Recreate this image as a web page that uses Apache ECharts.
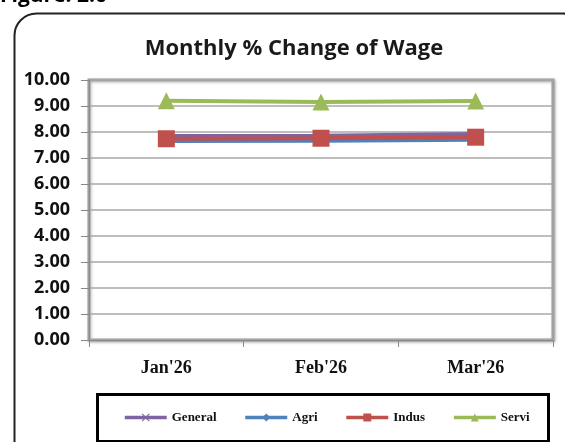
<!DOCTYPE html>
<html>
<head>
<meta charset="utf-8">
<script src="https://cdn.jsdelivr.net/npm/echarts@6/dist/echarts.min.js"></script>
<style>
  html, body { margin: 0; padding: 0; background: #fff; }
  #main { width: 565px; height: 442px; }
</style>
</head>
<body>
<div id="main"></div>
<script>
// data
var months = ["Jan'26", "Feb'26", "Mar'26"];
var general = [7.85, 7.86, 7.92];
var agri = [7.65, 7.66, 7.70];
var indus = [7.74, 7.76, 7.80];
var servi = [9.20, 9.15, 9.19];
var yTicks = [0, 1, 2, 3, 4, 5, 6, 7, 8, 9, 10];

var colGeneral = '#8064A2';
var colAgri = '#4F81BD';
var colIndus = '#C0504D';
var colServi = '#9BBB59';

var xMark = 'path://M0,1L1,0L5,4L9,0L10,1L6,5L10,9L9,10L5,6L1,10L0,9L4,5Z';

function lineSeries(name, data, color, symbol, size) {
	return {
		name: name,
		type: 'line',
		data: data,
		symbol: symbol,
		symbolSize: size,
		showAllSymbol: true,
		lineStyle: { color: color, width: 4 },
		itemStyle: { color: color },
		emphasis: { disabled: true }
	};
}

var chart = echarts.init(document.getElementById('main'), null, { renderer: 'canvas' });

var option = {
	animation: false,
	backgroundColor: '#fff',
	title: {
		text: 'Monthly % Change of Wage',
		left: 289,
		textAlign: 'center',
		top: 33,
		textStyle: { fontFamily: 'Open Sans', fontSize: 22, fontWeight: 'bold', color: '#1a1a1a' }
	},
	graphic: [
		{
			type: 'rect', left: 12, top: 11, silent: true, z: -1,
			shape: { width: 570, height: 450, r: 22 },
			style: { fill: 'none', stroke: '#222', lineWidth: 2 }
		},
		{
			type: 'text', left: 0, top: -14, silent: true,
			style: { text: 'Figure: 2.6', fill: '#000', font: 'bold 21px "Open Sans"' }
		},
		{
			type: 'rect', left: 96, top: 393, silent: true, z: -1,
			shape: { width: 451, height: 47 },
			style: { fill: '#fff', stroke: '#000', lineWidth: 3 }
		}
	],
	grid: {
		left: 89, right: 12, top: 80, bottom: 102,
		show: true,
		backgroundColor: '#fff',
		borderColor: '#a0a0a0',
		borderWidth: 3,
		shadowColor: 'rgba(0,0,0,0.25)',
		shadowBlur: 3,
		shadowOffsetX: 1,
		shadowOffsetY: 1
	},
	legend: {
		data: ['General', 'Agri', 'Indus', 'Servi'],
		left: 118,
		top: 406,
		itemWidth: 42,
		itemHeight: 10,
		itemGap: 27,
		selectedMode: false,
		lineStyle: { width: 3.5 },
		textStyle: { fontFamily: 'Liberation Serif', fontSize: 13, fontWeight: 'bold', color: '#111', padding: [0, 0, 0, 0] }
	},
	xAxis: {
		type: 'category',
		data: months,
		boundaryGap: true,
		axisLine: { lineStyle: { color: '#888', width: 1 } },
		axisTick: { show: true, length: 7, lineStyle: { color: '#888' } },
		axisLabel: { margin: 19, fontFamily: 'Liberation Serif', fontSize: 18, fontWeight: 'bold', color: '#111' },
		splitLine: { show: false }
	},
	yAxis: {
		type: 'value',
		min: yTicks[0],
		max: yTicks[yTicks.length - 1],
		interval: 1,
		axisLine: { show: true, lineStyle: { color: '#888' } },
		axisTick: { show: true, length: 8, lineStyle: { color: '#888' } },
		axisLabel: {
			margin: 19,
			fontFamily: 'Open Sans', fontSize: 18, fontWeight: 'bold', color: '#111',
			formatter: function (v) { return v.toFixed(2); }
		},
		splitLine: { show: true, lineStyle: { color: '#a8a8a8', width: 1.5 } }
	},
	series: [
		lineSeries('General', general, colGeneral, xMark, 8),
		lineSeries('Agri', agri, colAgri, 'diamond', 9),
		lineSeries('Indus', indus, colIndus, 'rect', 17),
		lineSeries('Servi', servi, colServi, 'triangle', 17)
	]
};

chart.setOption(option);
</script>
</body>
</html>
